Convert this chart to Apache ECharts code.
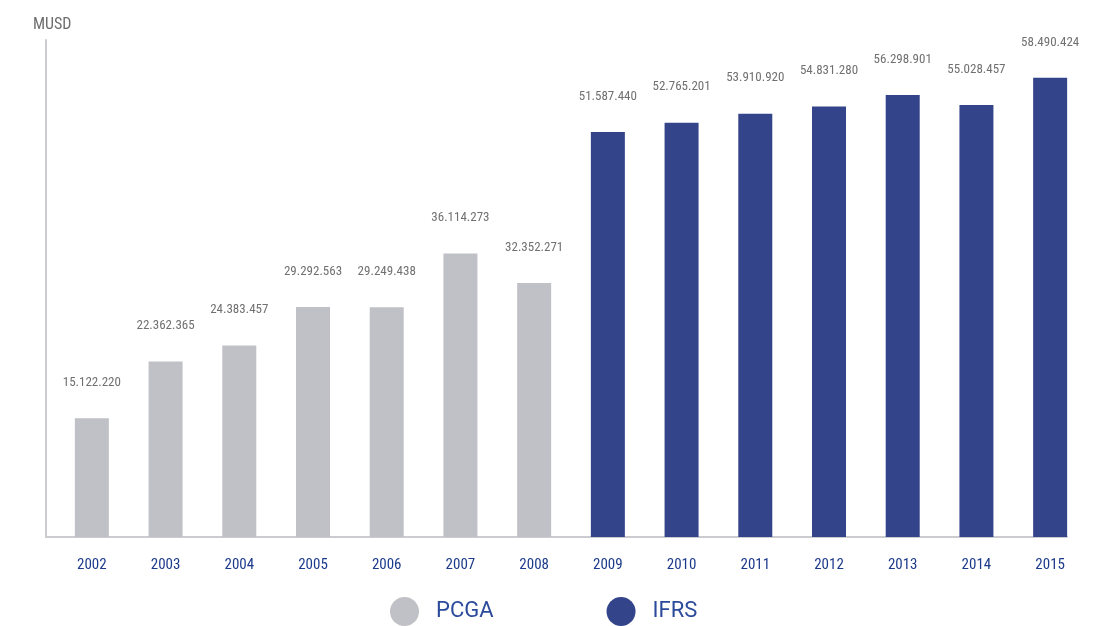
<!DOCTYPE html>
<html>
<head>
<meta charset="utf-8">
<script src="https://cdn.jsdelivr.net/npm/echarts@6/dist/echarts.min.js"></script>
<style>
  html, body { margin: 0; padding: 0; background: #ffffff; }
  #chart { width: 1097px; height: 626px; }
</style>
</head>
<body>
<div id="chart"></div>
<script>
// Annual totals, MUSD: PCGA basis through 2008, IFRS from 2009
const years = ['2002', '2003', '2004', '2005', '2006', '2007', '2008',
               '2009', '2010', '2011', '2012', '2013', '2014', '2015'];
const pcgaValues = [15122220, 22362365, 24383457, 29292563, 29249438, 36114273, 32352271,
                    null, null, null, null, null, null, null];
const ifrsValues = [null, null, null, null, null, null, null,
                    51587440, 52765201, 53910920, 54831280, 56298901, 55028457, 58490424];
const unitLabel = 'MUSD';

const condensed = '"Liberation Sans Narrow", "Roboto Condensed", "Arial Narrow", Roboto, sans-serif';
const grey = '#c0c1c6';
const navy = '#33448a';
const axisColor = '#cbcbd0';

function fmt(v) {
  return String(v).replace(/\B(?=(\d{3})+(?!\d))/g, '.');
}

const chart = echarts.init(document.getElementById('chart'));

const valueLabel = {
  show: true,
  position: 'top',
  distance: 29,
  color: '#707070',
  fontFamily: condensed,
  fontSize: 13,
  formatter: p => fmt(p.value)
};

chart.setOption({
  animation: false,
  backgroundColor: '#ffffff',
  title: {
    text: unitLabel,
    left: 28,
    top: 12,
    textStyle: { color: '#6e6e6e', fontFamily: condensed, fontSize: 16, fontWeight: 'normal' }
  },
  legend: {
    data: ['PCGA', 'IFRS'],
    left: 385,
    top: 592,
    icon: 'circle',
    itemWidth: 29,
    itemHeight: 29,
    itemGap: 113,
    textStyle: { color: '#2b4a9b', fontFamily: 'Roboto, sans-serif', fontSize: 22, padding: [0, 0, 0, 12] }
  },
  grid: [
    // bars
    { left: 55, right: 10, top: 40, bottom: 89 },
    // frame lines
    { left: 46, right: 30, top: 40, bottom: 89 }
  ],
  xAxis: [
    {
      type: 'category',
      gridIndex: 0,
      data: years,
      axisLine: { show: false },
      axisTick: { show: false },
      axisLabel: { color: '#1c3a8c', fontFamily: condensed, fontSize: 15, margin: 21 }
    },
    {
      type: 'value',
      gridIndex: 1,
      min: 0, max: 1,
      axisLine: { show: true, lineStyle: { color: axisColor, width: 2 } },
      axisTick: { show: false },
      axisLabel: { show: false },
      splitLine: { show: false }
    }
  ],
  yAxis: [
    {
      type: 'value',
      gridIndex: 0,
      min: 0,
      max: 63300000,
      show: false
    },
    {
      type: 'value',
      gridIndex: 1,
      min: 0, max: 1,
      axisLine: { show: true, lineStyle: { color: axisColor, width: 2 } },
      axisTick: { show: false },
      axisLabel: { show: false },
      splitLine: { show: false }
    }
  ],
  series: [
    {
      name: 'PCGA',
      type: 'bar',
      xAxisIndex: 0,
      yAxisIndex: 0,
      data: pcgaValues,
      barWidth: 34,
      barGap: '-100%',
      itemStyle: { color: grey },
      label: valueLabel,
      z: 3
    },
    {
      name: 'IFRS',
      type: 'bar',
      xAxisIndex: 0,
      yAxisIndex: 0,
      data: ifrsValues,
      barWidth: 34,
      barGap: '-100%',
      itemStyle: { color: navy },
      label: valueLabel,
      z: 3
    }
  ]
});
</script>
</body>
</html>
